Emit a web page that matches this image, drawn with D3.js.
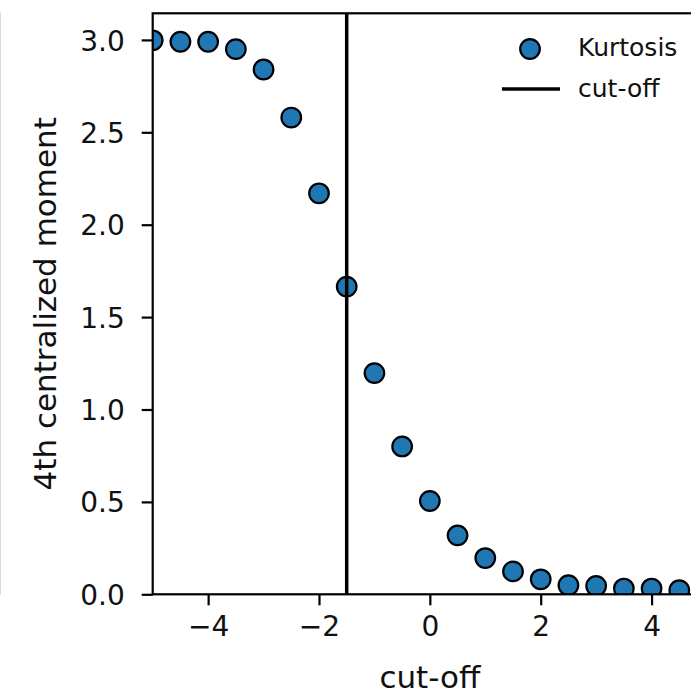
<!DOCTYPE html>
<html>
<head>
<meta charset="utf-8">
<script src="https://cdn.jsdelivr.net/npm/d3@7"></script>
<style>
  body { margin: 0; background: #fff; }
  svg { font-family: "DejaVu Sans", sans-serif; display: block; }
</style>
</head>
<body>
<svg id="chart-svg"></svg>
<script>
const cut_offs = [-5, -4.5, -4, -3.5, -3, -2.5, -2, -1.5, -1, -0.5, 0, 0.5, 1, 1.5, 2, 2.5, 3, 3.5, 4, 4.5];
const kurtosis = [2.998, 2.99, 2.99, 2.95, 2.84, 2.58, 2.17, 1.665, 1.197, 0.80, 0.505, 0.319, 0.196, 0.124, 0.081, 0.049, 0.045, 0.031, 0.031, 0.022];
const cut_off_value = -1.5;
const x_ticks = [-4, -2, 0, 2, 4];
const y_ticks = [0.0, 0.5, 1.0, 1.5, 2.0, 2.5, 3.0];
const legend_labels = ["Kurtosis", "cut-off"];

const width = 691, height = 694;
const plot_left = 152.7, plot_right = 707, plot_top = 13.3, plot_bottom = 594.3;

const svg = d3.select("#chart-svg")
              .attr("width", width)
              .attr("height", height);

// faint edge of a neighbouring panel at the very left
svg.append("line")
   .attr("x1", 0.5).attr("x2", 0.5)
   .attr("y1", 12).attr("y2", 595)
   .attr("stroke", "#dcdcdc")
   .attr("stroke-width", 1);

const x = d3.scaleLinear().domain([-5, 5]).range([plot_left, plot_right]);
const y = d3.scaleLinear().domain([0, 3.144]).range([plot_bottom, plot_top]);

svg.append("clipPath")
   .attr("id", "plot-clip")
   .append("rect")
   .attr("x", plot_left).attr("y", plot_top)
   .attr("width", plot_right - plot_left).attr("height", plot_bottom - plot_top);

const plot = svg.append("g").attr("clip-path", "url(#plot-clip)");

plot.selectAll("circle")
    .data(cut_offs)
    .enter()
    .append("circle")
    .attr("cx", d => x(d))
    .attr("cy", (d, i) => y(kurtosis[i]))
    .attr("r", 9.8)
    .attr("fill", "#1f77b4")
    .attr("stroke", "black")
    .attr("stroke-width", 2.2);

plot.append("line")
    .attr("x1", x(cut_off_value)).attr("x2", x(cut_off_value))
    .attr("y1", plot_top).attr("y2", plot_bottom)
    .attr("stroke", "black")
    .attr("stroke-width", 3.5);

// axes
const x_axis = svg.append("g")
                  .attr("transform", "translate(0," + plot_bottom + ")")
                  .call(d3.axisBottom(x).tickValues(x_ticks).tickSize(11).tickPadding(11)
                          .tickFormat(d => d < 0 ? "\u2212" + Math.abs(d) : d));
const y_axis = svg.append("g")
                  .attr("transform", "translate(" + plot_left + ",0)")
                  .call(d3.axisLeft(y).tickValues(y_ticks).tickSize(11).tickPadding(17)
                          .tickFormat(d3.format(".1f")));

[x_axis, y_axis].forEach(function(ax) {
  ax.select(".domain").remove();
  ax.selectAll(".tick line").attr("stroke", "black").attr("stroke-width", 2.2);
  ax.selectAll(".tick text")
    .attr("fill", "#111")
    .style("font-size", "28px")
    .style("font-family", "'DejaVu Sans', sans-serif");
});
y_axis.selectAll(".tick text").attr("dy", "0.36em");

// spines (right one falls outside the picture)
svg.append("rect")
   .attr("x", plot_left).attr("y", plot_top)
   .attr("width", plot_right - plot_left).attr("height", plot_bottom - plot_top)
   .attr("fill", "none")
   .attr("stroke", "black")
   .attr("stroke-width", 2.2);

svg.append("text")
   .attr("x", (plot_left + plot_right) / 2)
   .attr("y", 688)
   .attr("text-anchor", "middle")
   .attr("fill", "#111")
   .style("font-size", "31px")
   .text("cut-off");

svg.append("text")
   .attr("transform", "translate(56," + (plot_top + plot_bottom) / 2 + ") rotate(-90)")
   .attr("text-anchor", "middle")
   .attr("fill", "#111")
   .style("font-size", "31px")
   .text("4th centralized moment");

// legend
const legend = svg.append("g");
legend.append("circle")
      .attr("cx", 530).attr("cy", 49)
      .attr("r", 9.8)
      .attr("fill", "#1f77b4")
      .attr("stroke", "black")
      .attr("stroke-width", 2.2);
legend.append("line")
      .attr("x1", 502).attr("x2", 560)
      .attr("y1", 89).attr("y2", 89)
      .attr("stroke", "black")
      .attr("stroke-width", 3.5);
legend.selectAll("text")
      .data(legend_labels)
      .enter()
      .append("text")
      .attr("x", 578)
      .attr("y", (d, i) => 56 + i * 41)
      .style("font-size", "25px")
      .attr("fill", "#111")
      .text(d => d);
</script>
</body>
</html>
